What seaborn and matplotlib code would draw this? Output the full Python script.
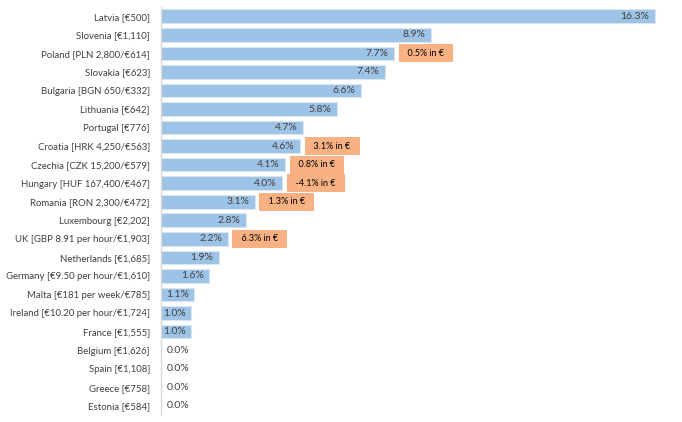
import seaborn as sns
import matplotlib.pyplot as plt
import pandas as pd

# Minimum wage growth by country (%), with euro-terms growth where it differs
countries = [
    "Latvia [€500]", "Slovenia [€1,110]", "Poland [PLN 2,800/€614]",
    "Slovakia [€623]", "Bulgaria [BGN 650/€332]", "Lithuania [€642]",
    "Portugal [€776]", "Croatia [HRK 4,250/€563]", "Czechia [CZK 15,200/€579]",
    "Hungary [HUF 167,400/€467]", "Romania [RON 2,300/€472]",
    "Luxembourg [€2,202]", "UK [GBP 8.91 per hour/€1,903]",
    "Netherlands [€1,685]", "Germany [€9.50 per hour/€1,610]",
    "Malta [€181 per week/€785]", "Ireland [€10.20 per hour/€1,724]",
    "France [€1,555]", "Belgium [€1,626]", "Spain [€1,108]",
    "Greece [€758]", "Estonia [€584]",
]
growth = [16.3, 8.9, 7.7, 7.4, 6.6, 5.8, 4.7, 4.6, 4.1, 4.0, 3.1,
          2.8, 2.2, 1.9, 1.6, 1.1, 1.0, 1.0, 0.0, 0.0, 0.0, 0.0]
euro_growth = [None, None, 0.5, None, None, None, None, 3.1, 0.8, -4.1, 1.3,
               None, 6.3, None, None, None, None, None, None, None, None, None]

df = pd.DataFrame({"country": countries, "growth": growth, "euro": euro_growth})

sns.set_style("white")
plt.rcParams["font.family"] = ["Lato", "DejaVu Sans"]

fig = plt.figure(figsize=(6.82, 4.22), dpi=100)
ax = fig.add_axes([161 / 682, 7 / 422, (670 - 161) / 682, 408 / 422])

sns.barplot(data=df, y="country", x="growth", orient="h", color="#9DC3E6",
            saturation=1, width=0.74, edgecolor="#DCE6F0", linewidth=0.8, ax=ax)

ax.set_xlim(0, 16.8)
ax.set_ylim(len(countries) - 0.5, -0.5)

for i, row in df.iterrows():
    if row["growth"] > 0:
        ax.annotate(f"{row['growth']:.1f}%", xy=(row["growth"], i),
                    xytext=(-4, 0), textcoords="offset points",
                    ha="right", va="center", fontsize=7.5, color="#404040")
    else:
        ax.annotate(f"{row['growth']:.1f}%", xy=(0, i),
                    xytext=(4, 0), textcoords="offset points",
                    ha="left", va="center", fontsize=7.5, color="#404040")
    if pd.notna(row["euro"]):
        ax.annotate(f"  {row['euro']:.1f}% in €  ", xy=(row["growth"], i),
                    xytext=(6.5, 0), textcoords="offset points",
                    ha="left", va="center", fontsize=6.5, color="black",
                    bbox=dict(boxstyle="square,pad=0.5", fc="#F8B183", ec="none"))

ax.set_xlabel("")
ax.set_ylabel("")
ax.set_xticks([])
ax.tick_params(axis="y", length=0, labelsize=6.9, labelcolor="#404040", pad=8)
for s in ["top", "right", "bottom"]:
    ax.spines[s].set_visible(False)
ax.spines["left"].set_color("#D9D9D9")
ax.spines["left"].set_linewidth(1)

fig.savefig("out.png", dpi=100)
plt.close()
